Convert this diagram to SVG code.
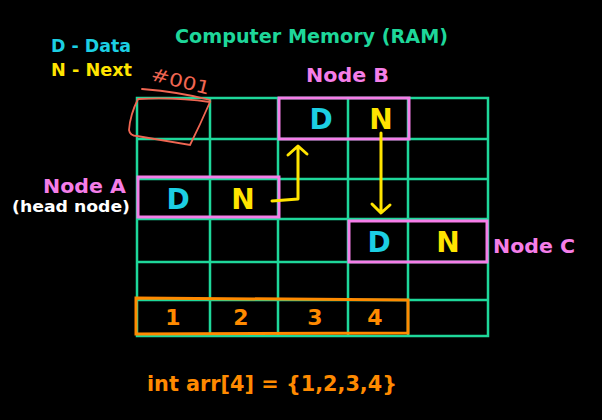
<svg xmlns="http://www.w3.org/2000/svg" width="602" height="420" viewBox="0 0 602 420">
<style>
.g{stroke:#1ed79a;stroke-width:2.5;fill:none}
.pk{stroke:#f57ee8;stroke-width:3;fill:none}
.t{font-family:"DejaVu Sans","Liberation Sans",sans-serif;font-weight:bold}
.big{font-size:28px}
.cy{fill:#1ccfe3}
.ye{fill:#ffe400}
.pink{fill:#f57ee8}
.or{fill:#ff8a00}
.arr{stroke:#ffe400;stroke-width:3;fill:none;stroke-linecap:round;stroke-linejoin:round}
</style>
<rect width="602" height="420" fill="#000"/>
<text class="t" x="175" y="43" font-size="20" fill="#1ed79a" textLength="273" lengthAdjust="spacingAndGlyphs">Computer Memory (RAM)</text>
<text class="t cy" x="51" y="52" font-size="17" textLength="80" lengthAdjust="spacingAndGlyphs">D - Data</text>
<text class="t ye" x="51" y="76" font-size="17" textLength="81" lengthAdjust="spacingAndGlyphs">N - Next</text>
<g id="grid">
<rect class="g" x="137" y="98" width="351" height="238"/>
<path class="g" d="M210 98V336M278 98V336M348 98V336M408 98V336M137 139H488M137 179H488M137 219H488M137 262H488M137 300H488"/>
</g>
<g id="address" stroke="#f06652" stroke-width="1.8" fill="none" stroke-linecap="round">
<path d="M142 89Q180 92 210 100"/>
<path d="M138 99Q130 115 129 130Q130 136 137 136L190 145Q200 125 210 102Q175 97 138 99Z"/>
<text x="150" y="80" transform="rotate(14 150 80)" font-family="DejaVu Sans,sans-serif" font-size="18" fill="#f06652" stroke="none" textLength="60" lengthAdjust="spacingAndGlyphs">#001</text>
</g>
<g id="nodeA">
<rect class="pk" x="138" y="177" width="141" height="40"/>
<text class="t pink" x="43" y="193" font-size="20" textLength="83" lengthAdjust="spacingAndGlyphs">Node A</text>
<text class="t" x="12" y="212" font-size="15.5" fill="#fff" textLength="118" lengthAdjust="spacingAndGlyphs">(head node)</text>
<text class="t big cy" x="178" y="209" text-anchor="middle">D</text>
<text class="t big ye" x="243" y="209" text-anchor="middle">N</text>
</g>
<g id="nodeB">
<rect class="pk" x="279" y="98" width="130" height="41"/>
<text class="t pink" x="306" y="82" font-size="20" textLength="83" lengthAdjust="spacingAndGlyphs">Node B</text>
<text class="t big cy" x="321" y="129" text-anchor="middle">D</text>
<text class="t big ye" x="381" y="129" text-anchor="middle">N</text>
</g>
<g id="nodeC">
<rect class="pk" x="349" y="221" width="138" height="41"/>
<text class="t pink" x="493" y="253" font-size="20" textLength="82" lengthAdjust="spacingAndGlyphs">Node C</text>
<text class="t big cy" x="379" y="252" text-anchor="middle">D</text>
<text class="t big ye" x="448" y="252" text-anchor="middle">N</text>
</g>
<g id="connectors">
<path class="arr" d="M272 201L298 199V147M288 155L298 146L307 154"/>
<path class="arr" d="M381 133V212M372 204L381 213L390 205"/>
</g>
<g id="array">
<path d="M136 298L408 300V333L136 334Z" stroke="#ff8a00" stroke-width="3" fill="none"/>
<text class="t or" x="173" y="325" font-size="22" text-anchor="middle">1</text>
<text class="t or" x="241" y="325" font-size="22" text-anchor="middle">2</text>
<text class="t or" x="315" y="325" font-size="22" text-anchor="middle">3</text>
<text class="t or" x="375" y="325" font-size="22" text-anchor="middle">4</text>
<text class="t or" x="147" y="391" font-size="22" textLength="250" lengthAdjust="spacingAndGlyphs">int arr[4] = {1,2,3,4}</text>
</g>
</svg>
